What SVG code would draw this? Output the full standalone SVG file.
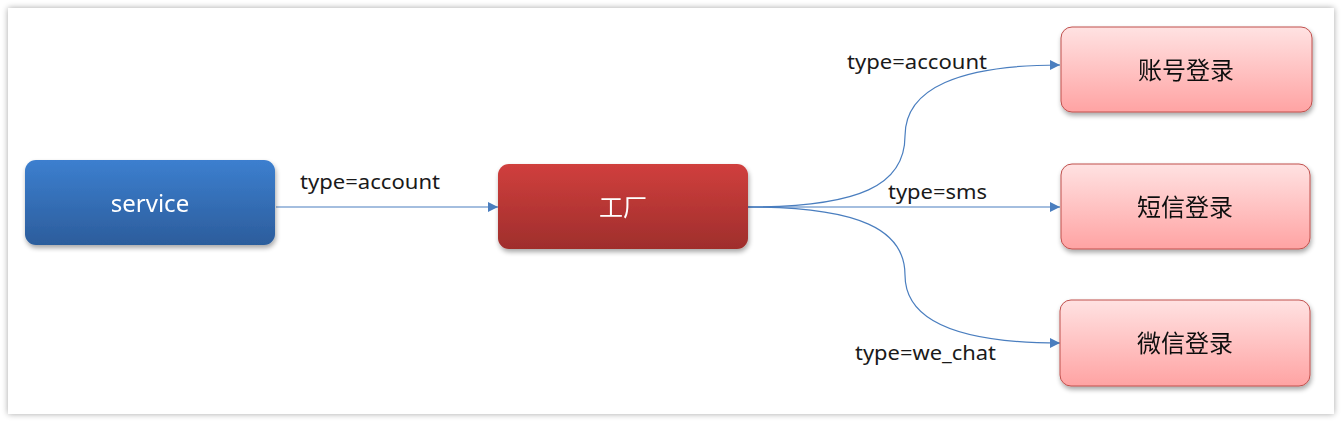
<svg xmlns="http://www.w3.org/2000/svg" width="1343" height="422" viewBox="0 0 1343 422">
  <defs>
    <linearGradient id="gBlue" x1="0" y1="0" x2="0" y2="1">
      <stop offset="0" stop-color="#3c7fcf"/>
      <stop offset="1" stop-color="#2c5d9c"/>
    </linearGradient>
    <linearGradient id="gRed" x1="0" y1="0" x2="0" y2="1">
      <stop offset="0" stop-color="#d03f3d"/>
      <stop offset="1" stop-color="#9f2e2c"/>
    </linearGradient>
    <linearGradient id="gPink" x1="0" y1="0" x2="0" y2="1">
      <stop offset="0" stop-color="#ffe2e2"/>
      <stop offset="1" stop-color="#ffa3a3"/>
    </linearGradient>
    <filter id="shadow" x="-10%" y="-20%" width="120%" height="150%">
      <feGaussianBlur in="SourceAlpha" stdDeviation="2.5"/>
      <feOffset dx="1" dy="3" result="b"/>
      <feComponentTransfer><feFuncA type="linear" slope="0.35"/></feComponentTransfer>
      <feMerge><feMergeNode/><feMergeNode in="SourceGraphic"/></feMerge>
    </filter>
    <filter id="frameShadow" x="-5%" y="-5%" width="110%" height="110%">
      <feGaussianBlur in="SourceAlpha" stdDeviation="3"/>
      <feComponentTransfer><feFuncA type="linear" slope="0.35"/></feComponentTransfer>
      <feMerge><feMergeNode/><feMergeNode in="SourceGraphic"/></feMerge>
    </filter>
    <marker id="arrow" viewBox="0 0 10 10" refX="10" refY="5" markerWidth="10" markerHeight="10" markerUnits="userSpaceOnUse" orient="auto">
      <path d="M0,0 L10,5 L0,10 z" fill="#4a7ebf"/>
    </marker>
    <style>
      .edge { fill: none; stroke: #4a7ebf; stroke-width: 1.2; marker-end: url(#arrow); }
      .lbl { font-family: "Noto Sans", "Open Sans", "DejaVu Sans", sans-serif; font-size: 19px; fill: #1a1a1a; }
      .ntxt { font-family: "Noto Sans", "Noto Sans CJK SC", sans-serif; font-size: 24px; text-anchor: middle; }
      .white { fill: #ffffff; }
      .dark { fill: #111111; }
      .pink { fill: url(#gPink); stroke: #c0504d; stroke-width: 1; }
    </style>
  </defs>

  <rect x="0" y="0" width="1343" height="422" fill="#ffffff"/>
  <rect id="frame" x="8" y="8" width="1326" height="406" fill="#ffffff" filter="url(#frameShadow)"/>

  <g id="connectors">
    <path class="edge" d="M276,207 L498,207"/>
    <path class="edge" d="M748,207 C860,207 905,185 905,136 C905,88 960,65 1060,65"/>
    <path class="edge" d="M748,207 L1060,207"/>
    <path class="edge" d="M748,207 C860,207 905,230 905,275 C905,322 960,343 1060,343"/>
    <text class="lbl" x="300" y="189" textLength="140" lengthAdjust="spacingAndGlyphs">type=account</text>
    <text class="lbl" x="847" y="69" textLength="140" lengthAdjust="spacingAndGlyphs">type=account</text>
    <text class="lbl" x="888" y="199" textLength="99" lengthAdjust="spacingAndGlyphs">type=sms</text>
    <text class="lbl" x="855" y="360" textLength="141" lengthAdjust="spacingAndGlyphs">type=we_chat</text>
  </g>

  <g id="node-service" filter="url(#shadow)">
    <rect x="25" y="160" width="250" height="85" rx="11" fill="url(#gBlue)"/>
    <text class="ntxt white" x="150" y="212">service</text>
  </g>
  <g id="node-factory" filter="url(#shadow)">
    <rect x="498" y="164" width="250" height="85" rx="11" fill="url(#gRed)"/>
    <text class="ntxt white" x="623" y="216">工厂</text>
  </g>
  <g id="node-account" filter="url(#shadow)">
    <rect class="pink" x="1061" y="27" width="251" height="85" rx="11"/>
    <text class="ntxt dark" x="1186" y="79">账号登录</text>
  </g>
  <g id="node-sms" filter="url(#shadow)">
    <rect class="pink" x="1061" y="164" width="249" height="85" rx="11"/>
    <text class="ntxt dark" x="1185" y="216">短信登录</text>
  </g>
  <g id="node-wechat" filter="url(#shadow)">
    <rect class="pink" x="1060" y="300" width="250" height="86" rx="11"/>
    <text class="ntxt dark" x="1185" y="352">微信登录</text>
  </g>
</svg>
